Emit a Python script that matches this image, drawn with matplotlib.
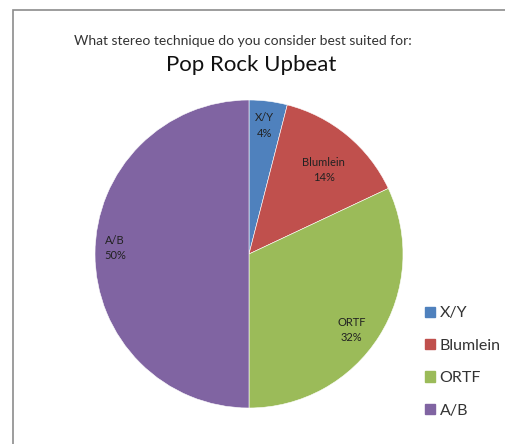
import numpy as np
import matplotlib.pyplot as plt
from matplotlib.patches import Rectangle

# survey answers
techniques = ['X/Y', 'Blumlein', 'ORTF', 'A/B']
shares = [4, 14, 32, 50]
colors = ['#4F81BD', '#C0504D', '#9BBB59', '#8064A2']

plt.rcParams['font.family'] = ['Lato', 'DejaVu Sans']

fig = plt.figure(figsize=(5.06, 4.44), dpi=100)

# chart area border
fig.add_artist(Rectangle((13/506, -0.1), 1.2, 1.1 - 10/444, transform=fig.transFigure,
                         fill=False, edgecolor='#8c8c8c', linewidth=1.2))

fig.text(243/506, 1 - 41/444, 'What stereo technique do you consider best suited for:',
         ha='center', va='center', fontsize=10, color='#333333')
fig.text(251/506, 1 - 65/444, 'Pop Rock Upbeat', ha='center', va='center',
         fontsize=16, color='#111111')

ax = fig.add_axes([95/506, 36/444, 308/506, 308/444])
wedges, _ = ax.pie(shares, colors=colors, startangle=90, counterclock=False,
                   wedgeprops=dict(edgecolor='white', linewidth=0.4))
ax.set_xlim(-1, 1)
ax.set_ylim(-1, 1)

# data labels inside each slice (radius, angle nudge in degrees)
label_r = [0.84, 0.73, 0.83, 0.87]
label_shift = [0.5, -2.2, -4.3, -2.6]
for w, name, val, r, s in zip(wedges, techniques, shares, label_r, label_shift):
    ang = np.deg2rad((w.theta1 + w.theta2) / 2 + s)
    ax.text(r*np.cos(ang), r*np.sin(ang), f'{name}\n{val}%', ha='center', va='center',
            fontsize=8, color='#222222', linespacing=1.45)

handles = [Rectangle((0, 0), 1, 1, color=c) for c in colors]
fig.legend(handles, techniques, loc='center left', bbox_to_anchor=(411/506, 1 - 362/444),
           frameon=False, fontsize=11.5, handlelength=0.6, handleheight=0.6,
           handletextpad=0.3, labelspacing=1.15, labelcolor='#333333')

fig.savefig('out.png', dpi=100)
